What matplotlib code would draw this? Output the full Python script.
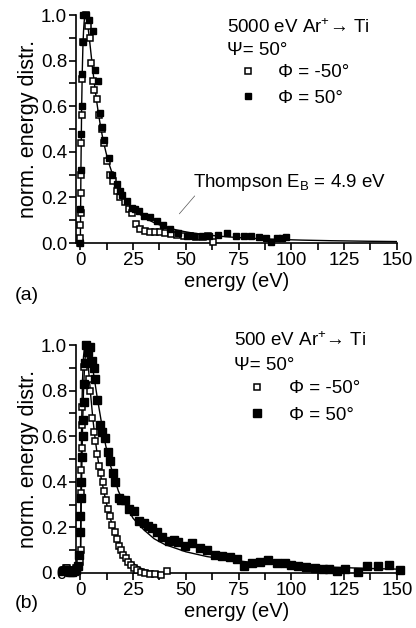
import numpy as np
import matplotlib
matplotlib.use("Agg")
import matplotlib.pyplot as plt
from matplotlib.ticker import MultipleLocator
from matplotlib.lines import Line2D

plt.rcParams['font.family'] = ['Liberation Sans', 'DejaVu Sans']
plt.rcParams['font.size'] = 13
plt.rcParams['mathtext.fontset'] = 'custom'
plt.rcParams['mathtext.rm'] = 'Liberation Sans'
plt.rcParams['mathtext.it'] = 'Liberation Sans:italic'

# ---- (a) 5000 eV Ar+ -> Ti ----
a_neg_E = [0.0, 0.02, 0.05, 0.1, 0.15, 0.25, 0.4, 0.55, 0.9, 1.4,
           2.8, 3.5, 4.4, 5.1, 6.0, 6.6, 7.9, 8.8, 10.3, 11.4, 12.6, 14.2,
           15.7, 17.4, 18.9, 21.3, 22.9, 24.4, 26.5, 28.4, 30.8, 33.1, 35.5,
           37.9, 40.2, 43.0, 46.0, 49.0, 52.0, 55.0, 58.0, 60.5, 63.0]
a_neg_y = [0.0, 0.02, 0.08, 0.13, 0.22, 0.30, 0.44, 0.56, 0.72, 0.88,
           1.0, 0.95, 0.90, 0.79, 0.71, 0.67, 0.63, 0.56, 0.50, 0.44, 0.36, 0.30,
           0.27, 0.23, 0.20, 0.18, 0.15, 0.13, 0.085, 0.063, 0.053, 0.05, 0.05,
           0.05, 0.045, 0.04, 0.035, 0.03, 0.03, 0.025, 0.025, 0.03, 0.005]

a_pos_E = [0.0, 0.05, 0.15, 0.35, 0.55, 0.9, 1.1, 1.3, 2.8, 3.9, 6.0, 7.1,
           8.2, 9.5, 10.3, 11.1, 13.4, 15.0, 17.4, 18.9, 19.7, 22.0, 24.4, 26.0,
           27.6, 30.0, 33.0, 36.3, 39.4, 42.6, 46.5, 50.5, 54.0, 57.5, 61.0,
           65.0, 69.4, 74.0, 77.5, 81.0, 84.5, 88.0, 90.5, 93.0, 95.5, 97.5]
a_pos_y = [0.0, 0.15, 0.32, 0.48, 0.60, 0.74, 0.88, 1.0, 1.0, 0.98, 0.93, 0.76,
           0.71, 0.57, 0.51, 0.45, 0.375, 0.30, 0.26, 0.23, 0.21, 0.185, 0.155, 0.15,
           0.14, 0.12, 0.115, 0.097, 0.08, 0.062, 0.045, 0.031, 0.03, 0.03, 0.03,
           0.035, 0.045, 0.03, 0.03, 0.03, 0.025, 0.02, 0.005, 0.02, 0.02, 0.025]

E_B = 4.9  # surface binding energy for the Thompson curve (eV)

# ---- (b) 500 eV Ar+ -> Ti ----
b_neg_E = [-7.0, -6.2, -5.4, -4.6, -3.8, -3.0, -2.2, -1.4, -0.7,
           0.0, 0.1, 0.2, 0.3, 0.4, 0.5, 0.6, 0.7, 0.8, 1.6, 2.8, 3.5, 3.9,
           4.7, 5.5, 6.3, 7.1, 7.9, 8.8, 9.6, 10.5, 11.4, 12.3, 13.2, 14.2,
           15.2, 16.2, 17.2, 18.2, 19.3, 20.4, 21.5, 22.7, 24.0, 25.4, 27.0,
           28.7, 30.5, 32.8, 35.5, 38.2, 41.0]
b_neg_y = [0.02, 0.02, 0.015, 0.01, 0.01, 0.015, 0.02, 0.02, 0.03,
           0.05, 0.10, 0.18, 0.25, 0.35, 0.45, 0.55, 0.65, 0.73, 0.905, 1.0, 0.97, 0.85,
           0.80, 0.68, 0.62, 0.58, 0.52, 0.47, 0.44, 0.40, 0.36, 0.32, 0.28, 0.25,
           0.21, 0.18, 0.15, 0.12, 0.10, 0.08, 0.065, 0.05, 0.035, 0.02, 0.012,
           0.005, 0.0, -0.005, -0.005, -0.01, 0.01]

b_pos_E = [-8.0, -7.0, -6.0, -5.0, -4.0, -3.0, -2.0, -1.2, -0.5, -0.3,
           0.0, 0.2, 0.5, 0.8, 1.1, 1.3, 1.6, 1.9, 2.2, 2.8, 3.6, 4.4, 5.5, 6.3,
           7.1, 7.9, 9.1, 10.4, 11.8, 13.0, 14.2, 15.4, 16.6, 18.1, 19.5, 21.3,
           23.2, 25.2, 27.6, 30.0, 32.0, 33.9, 36.2, 38.7, 41.8, 44.2, 46.5,
           49.7, 52.8, 56.8, 60.0, 63.9, 67.0, 71.0, 74.2, 77.7, 81.5, 85.1,
           88.7, 93.0, 97.0, 100.0, 103.0, 107.0, 111.0, 115.0, 118.0, 121.5,
           125.4, 131.7, 135.7, 141.0, 146.4, 151.4]
b_pos_y = [0.01, 0.015, 0.01, 0.005, 0.005, 0.01, 0.015, 0.03, 0.08, 0.18,
           0.25, 0.33, 0.40, 0.51, 0.60, 0.67, 0.75, 0.83, 0.92, 1.0, 0.97, 0.99, 0.93, 0.90,
           0.85, 0.76, 0.65, 0.62, 0.59, 0.53, 0.49, 0.44, 0.40, 0.33, 0.32, 0.32,
           0.28, 0.27, 0.23, 0.22, 0.205, 0.196, 0.18, 0.16, 0.14, 0.145, 0.137,
           0.118, 0.13, 0.108, 0.10, 0.079, 0.075, 0.072, 0.06, 0.032, 0.042, 0.05,
           0.055, 0.045, 0.042, 0.035, 0.03, 0.028, 0.02, 0.016, 0.016, 0.01,
           0.016, 0.006, 0.03, 0.03, 0.035, 0.013]

# fitted curves for (b)
b_fit_neg_E = [0, 0.3, 0.6, 1.0, 1.5, 2.0, 2.5, 3.0, 4.0, 5.0, 6.0, 7.0, 8.0, 9.0,
               10.0, 12.0, 14.0, 16.0, 18.0, 20.0, 22.0, 24.0, 26.0, 28.0, 30.0,
               33.0, 36.0, 40.0]
b_fit_neg_y = [0, 0.40, 0.65, 0.84, 0.95, 0.99, 1.0, 0.97, 0.88, 0.77, 0.67, 0.59,
               0.52, 0.46, 0.41, 0.32, 0.245, 0.185, 0.135, 0.098, 0.072, 0.052,
               0.036, 0.024, 0.015, 0.008, 0.004, 0.001]
b_fit_pos_E = [0, 0.5, 1.0, 1.5, 2.0, 2.5, 3.0, 3.5, 4.0, 5.0, 6.0, 7.0, 8.0, 10.0,
               12.0, 14.0, 16.0, 18.0, 20.0, 25.0, 30.0, 35.0, 40.0, 50.0, 60.0,
               70.0, 80.0, 90.0, 100.0, 110.0, 120.0, 130.0, 140.0, 150.0]
b_fit_pos_y = [0, 0.35, 0.62, 0.80, 0.91, 0.97, 0.995, 1.0, 0.99, 0.95, 0.89, 0.83,
               0.77, 0.66, 0.56, 0.48, 0.42, 0.36, 0.32, 0.24, 0.19, 0.15, 0.125,
               0.093, 0.072, 0.058, 0.048, 0.04, 0.034, 0.029, 0.025, 0.022, 0.019,
               0.017]


def style_axes(ax):
    ax.set_xlim(-2, 150)
    ax.set_ylim(0, 1.0)
    ax.spines['top'].set_visible(False)
    ax.spines['right'].set_visible(False)
    ax.spines['left'].set_linewidth(1.2)
    ax.spines['bottom'].set_linewidth(1.2)
    ax.xaxis.set_major_locator(MultipleLocator(25))
    ax.xaxis.set_minor_locator(MultipleLocator(12.5))
    ax.yaxis.set_major_locator(MultipleLocator(0.2))
    ax.yaxis.set_minor_locator(MultipleLocator(0.1))
    ax.yaxis.set_major_formatter(lambda v, p: f"{v:.1f}")
    ax.tick_params(which='both', direction='out', length=5, width=1.2,
                   labelsize=13.5, pad=1.5)
    ax.set_xlabel("energy (eV)", fontsize=14.5, labelpad=2)
    ax.set_ylabel("norm. energy distr.", fontsize=15.5, labelpad=1)


def header(ax, x, y, title, gap):
    ax.text(x, y, title, transform=ax.transAxes, fontsize=13.5, va='center')
    ax.text(x, y - gap, "Ψ= 50°", transform=ax.transAxes, fontsize=13.5,
            va='center')


fig = plt.figure(figsize=(4.16, 6.28), dpi=100)
ax1 = fig.add_axes([0.183, 0.613, 0.771, 0.363])
ax2 = fig.add_axes([0.183, 0.0876, 0.771, 0.363])

# (a)
E = np.linspace(0, 150, 1500)
th = E / (E + E_B) ** 3
ax1.plot(E, th / th.max(), color='black', lw=1.0, zorder=2)
ax1.plot(a_neg_E, a_neg_y, 's', ms=5, mfc='white', mec='black', mew=1.1,
         clip_on=False, zorder=3)
ax1.plot(a_pos_E, a_pos_y, 's', ms=4.8, color='black', clip_on=False, zorder=3)
style_axes(ax1)
ax1.annotate(f"Thompson E$_\\mathrm{{B}}$ = {E_B} eV", xy=(46.9, 0.128),
             xytext=(53.5, 0.265), fontsize=13.5, va='center',
             arrowprops=dict(arrowstyle='-', lw=0.5, color='#555555',
                             shrinkA=0, shrinkB=0, relpos=(0.02, 0.0)))
header(ax1, 0.47, 0.945, "5000 eV Ar$^{+}$→ Ti", 0.1)
leg_handles = [Line2D([], [], ls='none', marker='s', ms=5, mfc='white',
                      mec='black', mew=1.1),
               Line2D([], [], ls='none', marker='s', ms=4.8, color='black')]
ax1.legend(leg_handles, ["Φ = -50°", "Φ = 50°"], loc='upper left',
           bbox_to_anchor=(0.50, 0.785), frameon=False, fontsize=13.5,
           handlelength=1.2, handletextpad=1.0, labelspacing=0.45,
           borderpad=0, borderaxespad=0)
fig.text(0.035, 1 - 295 / 628, "(a)", fontsize=14, va='center')

# (b)
ax2.plot(b_fit_neg_E, b_fit_neg_y, color='black', lw=1.0, zorder=2)
ax2.plot(b_fit_pos_E, b_fit_pos_y, color='black', lw=1.0, zorder=2)
ax2.plot(b_neg_E, b_neg_y, 's', ms=5, mfc='white', mec='black', mew=1.1,
         clip_on=False, zorder=3)
ax2.plot(b_pos_E, b_pos_y, 's', ms=6.4, color='black', clip_on=False, zorder=3)
style_axes(ax2)
header(ax2, 0.492, 1.02, "500 eV Ar$^{+}$→ Ti", 0.11)
leg_handles2 = [Line2D([], [], ls='none', marker='s', ms=5, mfc='white',
                       mec='black', mew=1.1),
                Line2D([], [], ls='none', marker='s', ms=6.4, color='black')]
ax2.legend(leg_handles2, ["Φ = -50°", "Φ = 50°"], loc='upper left',
           bbox_to_anchor=(0.53, 0.845), frameon=False, fontsize=13.5,
           handlelength=1.2, handletextpad=1.1, labelspacing=0.5,
           borderpad=0, borderaxespad=0)
fig.text(0.035, 1 - 604 / 628, "(b)", fontsize=14, va='center')

fig.savefig("out.png", dpi=100)
